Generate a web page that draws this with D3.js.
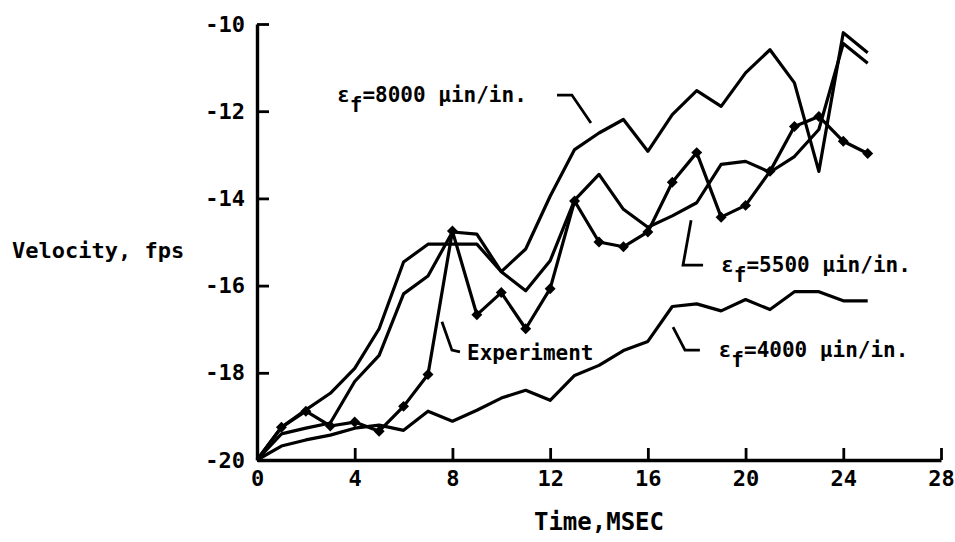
<!DOCTYPE html>
<html>
<head>
<meta charset="utf-8">
<script src="https://cdn.jsdelivr.net/npm/d3@7"></script>
<style>
  body { margin: 0; background: #fff; }
  text {
    font-family: "DejaVu Sans Mono", "Liberation Mono", monospace;
    font-weight: bold;
    fill: #000;
  }
</style>
</head>
<body>
<div class="chart"></div>
<script>
var svgWidth = 955;
var svgHeight = 542;

// time steps, msec
var timeMs = [0, 1, 2, 3, 4, 5, 6, 7, 8, 9, 10, 11, 12, 13, 14, 15, 16, 17, 18, 19, 20, 21, 22, 23, 24, 25];

// velocity, fps
var experiment = [-20, -19.25, -18.88, -19.22, -19.13, -19.34, -18.77, -18.04, -14.75, -16.67, -16.16, -16.99, -16.07,
  -14.06, -15.0, -15.11, -14.77, -13.63, -12.95, -14.43, -14.16, -13.38, -12.35, -12.12, -12.69, -12.97];
var strain8000 = [-20, -19.4, -19.27, -19.15, -18.2, -17.6, -16.19, -15.78, -14.77, -14.82, -15.68, -15.16, -13.95,
  -12.88, -12.5, -12.19, -12.92, -12.08, -11.53, -11.89, -11.12, -10.59, -11.35, -13.38, -10.2, -10.66];
var strain5500 = [-20, -19.25, -18.85, -18.47, -17.9, -16.99, -15.46, -15.05, -15.05, -15.05, -15.68, -16.12, -15.43,
  -14.04, -13.45, -14.25, -14.66, -14.4, -14.1, -13.22, -13.15, -13.4, -13.04, -12.42, -10.45, -10.9];
var strain4000 = [-20, -19.68, -19.54, -19.43, -19.27, -19.2, -19.32, -18.88, -19.11, -18.86, -18.58, -18.4, -18.63,
  -18.06, -17.83, -17.49, -17.28, -16.48, -16.42, -16.58, -16.32, -16.55, -16.14, -16.14, -16.35, -16.35];

var xTicks = [0, 4, 8, 12, 16, 20, 24, 28];
var yTicks = [-20, -18, -16, -14, -12, -10];
var strainLabels = ["8000", "5500", "4000"];

var margin = {
  top: 24,
  right: 14,
  bottom: 82,
  left: 257
};

var width = svgWidth - margin.left - margin.right;
var height = svgHeight - margin.top - margin.bottom;

var svg = d3.select(".chart")
  .append("svg")
  .attr("width", svgWidth)
  .attr("height", svgHeight);

svg.append("rect")
  .attr("width", svgWidth)
  .attr("height", svgHeight)
  .attr("fill", "#fff");

var chartGroup = svg.append("g")
  .attr("transform", `translate(${margin.left}, ${margin.top})`);

var x = d3.scaleLinear().domain([0, 28]).range([0, width]);
var y = d3.scaleLinear().domain([-20, -10]).range([height, 0]);

// axes, ticks pointing inward
var bottomAxis = d3.axisBottom(x)
  .tickValues(xTicks)
  .tickFormat(d => String(d))
  .tickSizeInner(-12)
  .tickSizeOuter(0)
  .tickPadding(10);

var leftAxis = d3.axisLeft(y)
  .tickValues(yTicks)
  .tickFormat(d => String(d))
  .tickSizeInner(-12)
  .tickSizeOuter(0)
  .tickPadding(12);

var xAxis = chartGroup.append("g")
  .attr("transform", `translate(0, ${height})`)
  .call(bottomAxis);

var yAxis = chartGroup.append("g")
  .call(leftAxis);

[xAxis, yAxis].forEach(function(ax) {
  ax.select(".domain").attr("stroke-width", 3.4);
  ax.selectAll(".tick line").attr("stroke-width", 2.8);
  ax.selectAll(".tick text")
    .attr("font-size", 22)
    .attr("font-family", null);
});

// curves
var line = d3.line()
  .x((d, i) => x(timeMs[i]))
  .y(d => y(d));

[strain8000, strain5500, strain4000, experiment].forEach(function(series) {
  chartGroup.append("path")
    .datum(series)
    .attr("d", line)
    .attr("fill", "none")
    .attr("stroke", "#000")
    .attr("stroke-width", 3.2)
    .attr("stroke-linejoin", "round");
});

// experiment markers
var diamond = d3.symbol().type(d3.symbolSquare).size(60);
chartGroup.selectAll(".marker")
  .data(experiment.slice(1))
  .enter()
  .append("path")
  .attr("class", "marker")
  .attr("d", diamond)
  .attr("transform", (d, i) => `translate(${x(timeMs[i + 1])}, ${y(d)}) rotate(45)`)
  .attr("fill", "#000");

// leader lines (data units)
var leaders = [
  [[12.28, -11.63], [12.89, -11.63], [13.67, -12.27]],
  [[17.77, -14.5], [17.44, -15.53], [18.26, -15.53]],
  [[17.03, -16.95], [17.52, -17.48], [18.13, -17.48]],
  [[7.57, -16.83], [7.98, -17.48], [8.31, -17.52]]
];

var leaderLine = d3.line()
  .x(d => x(d[0]))
  .y(d => y(d[1]));

leaders.forEach(function(pts) {
  chartGroup.append("path")
    .attr("d", leaderLine(pts))
    .attr("fill", "none")
    .attr("stroke", "#000")
    .attr("stroke-width", 2.8);
});

// strain labels
var labelPos = [[3.28, -11.79], [19.0, -15.69], [18.9, -17.64]];

strainLabels.forEach(function(s, i) {
  var t = chartGroup.append("text")
    .attr("x", x(labelPos[i][0]))
    .attr("y", y(labelPos[i][1]))
    .attr("font-size", 21);
  t.append("tspan").text("ε");
  t.append("tspan").attr("dy", 10).text("f");
  t.append("tspan").attr("dy", -10).text("=" + s + " μin/in.");
});

chartGroup.append("text")
  .attr("x", x(8.6))
  .attr("y", y(-17.7))
  .attr("font-size", 21)
  .text("Experiment");

// axis titles
svg.append("text")
  .attr("x", 12)
  .attr("y", 258)
  .attr("font-size", 22)
  .text("Velocity, fps");

svg.append("text")
  .attr("x", margin.left + x(14))
  .attr("y", 530)
  .attr("text-anchor", "middle")
  .attr("font-size", 24)
  .text("Time,MSEC");
</script>
</body>
</html>
